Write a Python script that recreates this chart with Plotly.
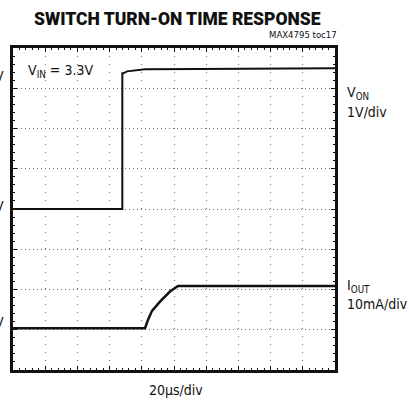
import plotly.graph_objects as go

# ---- data (time in microseconds, 20 us/div) ----
von_time_us = [0, 67.9, 67.9, 68.5, 70.8, 74.5, 82.0, 116.0, 200.0]
von_volts = [0.0, 0.0, 3.37, 3.37, 3.42, 3.44, 3.47, 3.48, 3.50]

iout_time_us = [0, 82.0, 83.85, 86.34, 91.3, 97.5, 102.5, 120.0, 200.0]
iout_ma = [0.0, 0.0, 2.06, 4.3, 6.6, 9.1, 10.5, 10.5, 10.5]

# ---- layout geometry (pixels) ----
W, H = 409, 402
L, R, T, B = 13, 335, 48, 370


def px(x):
    return (x - L) / (R - L)


def py(y):
    return (B - y) / (B - T)


FONT = "DejaVu Sans Condensed, Roboto, Arial"
TFONT = "Roboto, Arial"
INK = "#111111"

fig = go.Figure()
fig.add_trace(go.Scatter(x=von_time_us, y=von_volts, mode="lines",
                         line=dict(color=INK, width=2), yaxis="y",
                         showlegend=False, hoverinfo="skip"))
fig.add_trace(go.Scatter(x=iout_time_us, y=iout_ma, mode="lines",
                         line=dict(color=INK, width=2.5), yaxis="y2",
                         showlegend=False, hoverinfo="skip"))

grid_col = "#6f6f6f"
fig.update_layout(
    width=W, height=H, autosize=False,
    margin=dict(l=L, r=W - R, t=T, b=H - B, pad=0),
    paper_bgcolor="white", plot_bgcolor="white",
    font=dict(family=FONT, color=INK),
    xaxis=dict(range=[0, 200], dtick=20, showticklabels=False,
               showgrid=True, gridcolor=grid_col, gridwidth=1, griddash="1px,7px",
               zeroline=False, showline=True, linecolor=INK, linewidth=3,
               mirror="ticks", ticks="inside", ticklen=4, tickcolor=INK,
               minor=dict(dtick=4, ticks="inside", ticklen=2, tickcolor=INK,
                          showgrid=False)),
    yaxis=dict(range=[-4, 4], dtick=1, showticklabels=False,
               showgrid=True, gridcolor=grid_col, gridwidth=1, griddash="1px,3px",
               zeroline=False, showline=True, linecolor=INK, linewidth=3,
               mirror="ticks", ticks="inside", ticklen=4, tickcolor=INK,
               minor=dict(dtick=0.2, ticks="inside", ticklen=2, tickcolor=INK,
                          showgrid=False)),
    yaxis2=dict(range=[-10.4, 69.6], overlaying="y", showticklabels=False,
                showgrid=False, zeroline=False, showline=False, ticks=""),
)

ann = []
ann.append(dict(text="SWITCH TURN-ON TIME RESPONSE", x=px(177), y=py(19),
                xanchor="center", yanchor="middle",
                font=dict(size=17.5, family=TFONT, weight=900)))
ann.append(dict(text="MAX4795 toc17", x=px(339), y=py(35),
                xanchor="right", yanchor="middle", font=dict(size=9.5, family=FONT)))
ann.append(dict(text="V<sub>IN</sub> = 3.3V", x=px(26), y=py(71),
                xanchor="left", yanchor="middle", font=dict(size=14, family=FONT)))
ann.append(dict(text="V<sub>ON</sub>", x=px(345), y=py(93),
                xanchor="left", yanchor="middle", font=dict(size=14, family=FONT)))
ann.append(dict(text="1V/div", x=px(345), y=py(112),
                xanchor="left", yanchor="middle", font=dict(size=14, family=FONT)))
ann.append(dict(text="I<sub>OUT</sub>", x=px(345), y=py(286),
                xanchor="left", yanchor="middle", font=dict(size=14, family=FONT)))
ann.append(dict(text="10mA/div", x=px(345), y=py(304),
                xanchor="left", yanchor="middle", font=dict(size=14, family=FONT)))
ann.append(dict(text="20\u00b5s/div", x=px(176), y=py(390),
                xanchor="center", yanchor="middle", font=dict(size=14, family=FONT)))
for yy in (76, 206, 322):
    ann.append(dict(text="0V", x=px(6), y=py(yy), xanchor="right", yanchor="middle",
                    font=dict(size=14, family=FONT)))
for a in ann:
    a.update(xref="paper", yref="paper", showarrow=False)
fig.update_layout(annotations=ann)

fig.write_html("out.html", config={"displayModeBar": False},
               post_script="document.body.style.margin='0';document.body.style.overflow='hidden';")
